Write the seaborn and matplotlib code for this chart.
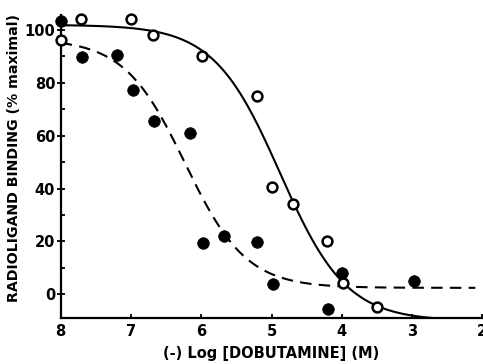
import numpy as np
import pandas as pd
import matplotlib
matplotlib.use("Agg")
import matplotlib.pyplot as plt
import seaborn as sns

# Data
x_filled = [8.0, 7.7, 7.2, 6.97, 6.67, 6.16, 5.98, 5.67, 5.2, 4.98, 4.2, 4.0, 2.98]
y_filled = [103.2, 89.5, 90.4, 77.2, 65.5, 60.8, 19.6, 22.0, 19.8, 3.8, -5.6, 8.0, 5.1]

x_open = [8.0, 7.71, 7.0, 6.69, 5.99, 5.21, 4.99, 4.69, 4.21, 3.99, 3.5]
y_open = [95.9, 104.0, 103.9, 97.9, 90.0, 75.0, 40.5, 34.2, 20.3, 4.5, -4.6]

# Fitted sigmoid parameters: top, bottom, midpoint, slope
solid_fit = [101.8, -10.0, 4.88, 0.92]
dashed_fit = [96.5, 2.5, 6.23, 1.0]
solid_range = [8.0, 2.7]
dashed_range = [8.0, 2.1]

x_ticks = [8, 7, 6, 5, 4, 3, 2]
y_ticks = [0, 20, 40, 60, 80, 100]
y_minor = [10, 30, 50, 70, 90]


def sigmoid(x, p):
    top, bot, xm, h = p
    return bot + (top - bot) / (1 + 10 ** (h * (xm - x)))


xs = np.linspace(solid_range[0], solid_range[1], 300)
xd = np.linspace(dashed_range[0], dashed_range[1], 300)
df_solid = pd.DataFrame({"x": xs, "y": sigmoid(xs, solid_fit)})
df_dash = pd.DataFrame({"x": xd, "y": sigmoid(xd, dashed_fit)})
df_f = pd.DataFrame({"x": x_filled, "y": y_filled})
df_o = pd.DataFrame({"x": x_open, "y": y_open})

sns.set_theme(style="ticks", rc={"axes.edgecolor": "black", "xtick.color": "black",
                                 "ytick.color": "black", "text.color": "black",
                                 "axes.labelcolor": "black"})
plt.rcParams["font.family"] = ["DejaVu Sans"]

fig = plt.figure(figsize=(4.83, 3.64), dpi=100)
ax = fig.add_axes([0.1257, 0.1255, 0.873, 0.8333])

sns.lineplot(data=df_solid, x="x", y="y", ax=ax, color="black", lw=1.5,
             sort=False, estimator=None)
sns.lineplot(data=df_dash, x="x", y="y", ax=ax, color="black", lw=1.5,
             sort=False, estimator=None)
ax.lines[1].set_linestyle((0, (5.5, 3.5)))

sns.scatterplot(data=df_f, x="x", y="y", ax=ax, color="black", s=70,
                edgecolor="black", linewidth=0.5, clip_on=False, zorder=5)
sns.scatterplot(data=df_o, x="x", y="y", ax=ax, facecolor="white", s=50,
                edgecolor="black", linewidth=1.8, clip_on=False, zorder=6)

ax.set_xlim(8, 2)
ax.set_ylim(-9, 105.5)
ax.set_xticks(x_ticks)
ax.set_xticklabels([str(t) for t in x_ticks], fontweight="bold", fontsize=10.5)
ax.set_yticks(y_ticks)
ax.set_yticklabels([str(t) for t in y_ticks], fontweight="bold", fontsize=10.5)
ax.set_yticks(y_minor, minor=True)

ax.tick_params(axis="y", which="major", direction="inout", length=6, width=1.3, pad=1)
ax.tick_params(axis="y", which="minor", direction="in", length=3, width=1.3)
ax.tick_params(axis="x", which="major", direction="in", length=3, width=1.3, pad=4)

for s in ["top", "right"]:
    ax.spines[s].set_visible(False)
for s in ["left", "bottom"]:
    ax.spines[s].set_linewidth(1.6)

ax.set_xlabel("(-) Log [DOBUTAMINE] (M)", fontweight="bold", fontsize=10.5, labelpad=5)
ax.set_ylabel("RADIOLIGAND BINDING (% maximal)", fontweight="bold", fontsize=10.2)
ax.yaxis.set_label_coords(-0.095, 0.53)

fig.savefig("out.png", dpi=100)
